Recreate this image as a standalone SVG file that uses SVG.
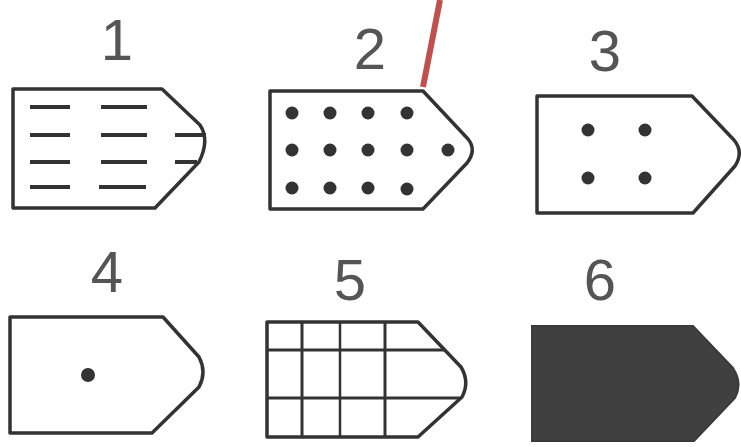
<svg xmlns="http://www.w3.org/2000/svg" width="741" height="447" viewBox="0 0 741 447">
<style>
.lbl{font-family:"Liberation Sans",Arial,sans-serif;font-size:58px;fill:#555;text-anchor:middle}
.out{fill:#fff;stroke:#333;stroke-width:3.5;stroke-linejoin:round}
.dash{stroke:#333;stroke-width:4;stroke-linecap:butt}
.dot{fill:#333}
.grid{stroke:#333;stroke-width:3}
</style>
<rect width="741" height="447" fill="#fff"/>
<g id="n1">
<text class="lbl" x="117" y="60">1</text>
<path class="out" d="M13,89 H162 L200,125 Q210,140 199,162 L155,208 H13 Z"/>
<g class="dash">
<line x1="30" y1="107" x2="70" y2="107"/><line x1="101" y1="107" x2="147" y2="107"/>
<line x1="30" y1="135" x2="70" y2="135"/><line x1="101" y1="135" x2="147" y2="135"/><line x1="175" y1="135" x2="206" y2="135"/>
<line x1="30" y1="162" x2="70" y2="162"/><line x1="101" y1="162" x2="147" y2="162"/><line x1="175" y1="162" x2="197" y2="162"/>
<line x1="30" y1="187" x2="70" y2="187"/><line x1="99" y1="187" x2="146" y2="187"/>
</g>
</g>
<g id="n2">
<text class="lbl" x="370" y="69">2</text>
<path class="out" d="M270,91 H423 L468,139 Q477,150 467,163 L423,209 H270 Z"/>
<g class="dot">
<circle cx="292" cy="113" r="6.5"/><circle cx="330" cy="113" r="6.5"/><circle cx="368" cy="113" r="6.5"/><circle cx="407" cy="113" r="6.5"/>
<circle cx="292" cy="150" r="6.5"/><circle cx="330" cy="150" r="6.5"/><circle cx="368" cy="150" r="6.5"/><circle cx="407" cy="150" r="6.5"/><circle cx="448" cy="150" r="6.5"/>
<circle cx="292" cy="188" r="6.5"/><circle cx="330" cy="188" r="6.5"/><circle cx="368" cy="188" r="6.5"/><circle cx="407" cy="189" r="6.5"/>
</g>
</g>
<g id="n3">
<text class="lbl" x="605" y="71">3</text>
<path class="out" d="M537,96 H692 L734,140 Q744,152 735,166 L693,213 H537 Z"/>
<g class="dot">
<circle cx="588" cy="130" r="6.5"/><circle cx="645" cy="130" r="6.5"/>
<circle cx="588" cy="178" r="6.5"/><circle cx="645" cy="178" r="6.5"/>
</g>
</g>
<g id="n4">
<text class="lbl" x="107" y="292">4</text>
<path class="out" d="M10,317 H163 L199,357 Q207,372 199,387 L152,433 H10 Z"/>
<circle class="dot" cx="88" cy="375" r="7"/>
</g>
<g id="n5">
<text class="lbl" x="350" y="300">5</text>
<path class="out" d="M267,322 H418 L461,367 Q470,382 462,397 L418,437 H267 Z"/>
<g class="grid">
<line x1="302" y1="322" x2="302" y2="437"/>
<line x1="340" y1="322" x2="340" y2="437" stroke-width="2.5"/>
<line x1="385" y1="322" x2="385" y2="437"/>
<line x1="267" y1="350" x2="445" y2="350"/>
<line x1="267" y1="398" x2="460" y2="398"/>
</g>
</g>
<g id="n6">
<text class="lbl" x="600" y="300">6</text>
<path d="M532,326 H693 L733,368 Q743,383 735,398 L694,441 H532 Z" fill="#404040" stroke="#3a3a3a" stroke-width="2"/>
</g>
<g id="connectors">
<line x1="440" y1="0" x2="423" y2="87" stroke="#c0504d" stroke-width="6"/>
</g>
</svg>
